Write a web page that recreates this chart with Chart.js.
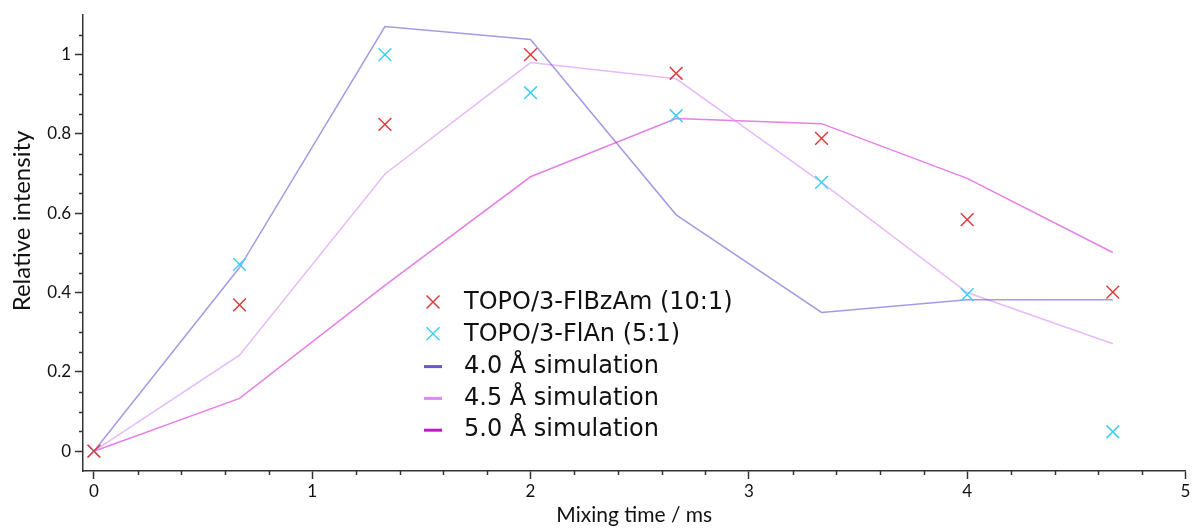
<!DOCTYPE html>
<html>
<head>
<meta charset="utf-8">
<script src="https://cdn.jsdelivr.net/npm/chart.js@4.4.1/dist/chart.umd.min.js"></script>
<style>
  html, body { margin: 0; padding: 0; background: #fff; }
  #wrap { width: 1196px; height: 528px; }
</style>
</head>
<body>
<div id="wrap"><canvas id="chart" width="1196" height="528"></canvas></div>
<script>
// mixing times (ms)
var mixTimes = [0, 0.667, 1.333, 2, 2.667, 3.333, 4, 4.667];

// measured intensities
var flbzam = [0, 0.369, 0.824, 1.0, 0.953, 0.789, 0.584, 0.401];
var flan = [0, 0.471, 1.0, 0.904, 0.846, 0.678, 0.395, 0.049];

// simulations
var sim40 = [0, 0.463, 1.071, 1.038, 0.596, 0.35, 0.382, 0.382];
var sim45 = [0, 0.242, 0.699, 0.98, 0.939, 0.678, 0.40, 0.271];
var sim50 = [0, 0.133, 0.418, 0.692, 0.839, 0.826, 0.688, 0.501];

var xTicks = [0, 1, 2, 3, 4, 5];
var yTicks = [0, 0.2, 0.4, 0.6, 0.8, 1];

function pts(ys) {
    return mixTimes.map(function (x, i) { return { x: x, y: ys[i] }; });
}

var axisColor = "#333";
var tickFont = { family: "Lato, 'Open Sans', sans-serif", size: 17 };

// minor ticks, y title + legend drawn by hand
var extras = {
    id: "extras",
    afterDraw: function (chart) {
        var ctx = chart.ctx;
        var xs = chart.scales.x, ys = chart.scales.y;
        var area = chart.chartArea;
        ctx.save();
        ctx.strokeStyle = axisColor;
        ctx.lineWidth = 1.5;
        ctx.beginPath();
        for (var v = 0.2; v < 5; v += 0.2) {
            if (Math.abs(v - Math.round(v)) < 1e-6) continue;
            var px = Math.round(xs.getPixelForValue(v)) + 0.5;
            ctx.moveTo(px, area.bottom);
            ctx.lineTo(px, area.bottom + 4);
        }
        for (var k = 1; k <= 21; k++) {
            var val = k * 0.05;
            if (k % 4 === 0) continue;
            var py = Math.round(ys.getPixelForValue(val)) + 0.5;
            ctx.moveTo(area.left, py);
            ctx.lineTo(area.left - 4, py);
        }
        ctx.stroke();

        // y title
        ctx.save();
        ctx.translate(22, 221);
        ctx.rotate(-Math.PI / 2);
        ctx.font = "24px Lato, 'Open Sans', sans-serif";
        ctx.fillStyle = "#111";
        ctx.textAlign = "center";
        ctx.textBaseline = "middle";
        ctx.fillText("Relative intensity", 0, 0);
        ctx.restore();

        // legend
        var lx = 433, ly = 302, gap = 31.8;
        ctx.font = "24px 'DejaVu Sans', sans-serif";
        ctx.textBaseline = "middle";
        ctx.textAlign = "left";
        chart.data.datasets.forEach(function (ds, i) {
            var y = ly + i * gap;
            ctx.strokeStyle = ds.legendColor;
            if (ds.showLine === false) {
                ctx.lineWidth = 1.5;
                ctx.beginPath();
                ctx.moveTo(lx - 6.5, y - 6.5); ctx.lineTo(lx + 6.5, y + 6.5);
                ctx.moveTo(lx - 6.5, y + 6.5); ctx.lineTo(lx + 6.5, y - 6.5);
                ctx.stroke();
            } else {
                ctx.lineWidth = 3;
                ctx.beginPath();
                ctx.moveTo(lx - 9, y + 1); ctx.lineTo(lx + 9, y + 1);
                ctx.stroke();
            }
            ctx.fillStyle = "#111";
            ctx.fillText(ds.label, lx + 31, y + 1);
        });
        ctx.restore();
    }
};

new Chart(document.getElementById("chart"), {
    type: "line",
    data: {
        datasets: [
            {
                label: "TOPO/3-FlBzAm (10:1)",
                data: pts(flbzam),
                showLine: false,
                pointStyle: "crossRot",
                pointRadius: 9,
                pointBorderWidth: 1.5,
                borderColor: "#dc3c3c",
                legendColor: "#dc3c3c"
            },
            {
                label: "TOPO/3-FlAn (5:1)",
                data: pts(flan),
                showLine: false,
                pointStyle: "crossRot",
                pointRadius: 9,
                pointBorderWidth: 1.5,
                borderColor: "#3fcff5",
                legendColor: "#3fcff5"
            },
            {
                label: "4.0 Å simulation",
                data: pts(sim40),
                borderColor: "rgba(110, 85, 210, 0.6)",
                legendColor: "#6c52d4",
                borderWidth: 1.5,
                pointRadius: 0
            },
            {
                label: "4.5 Å simulation",
                data: pts(sim45),
                borderColor: "rgba(215, 140, 250, 0.6)",
                legendColor: "#d58cf2",
                borderWidth: 1.5,
                pointRadius: 0
            },
            {
                label: "5.0 Å simulation",
                data: pts(sim50),
                borderColor: "rgba(215, 60, 215, 0.65)",
                legendColor: "#c218c8",
                borderWidth: 1.5,
                pointRadius: 0
            }
        ]
    },
    options: {
        responsive: false,
        animation: false,
        layout: { padding: { top: 15, right: 6, left: 0, bottom: 0 } },
        plugins: {
            legend: { display: false },
            tooltip: { enabled: false }
        },
        scales: {
            x: {
                type: "linear",
                min: -0.05,
                max: 5,
                afterBuildTicks: function (scale) {
                    scale.ticks = xTicks.map(function (v) { return { value: v }; });
                },
                afterFit: function (scale) { scale.height = 57; },
                border: { color: axisColor, width: 1.5 },
                grid: { drawOnChartArea: false, tickLength: 8, tickColor: axisColor, tickWidth: 1.5 },
                ticks: { color: "#111", font: tickFont, padding: 2, maxRotation: 0 },
                title: {
                    display: true,
                    text: "Mixing time / ms",
                    color: "#111",
                    font: { family: "Lato, 'Open Sans', sans-serif", size: 21 },
                    padding: { top: 0, bottom: 0 }
                }
            },
            y: {
                min: -0.05,
                max: 1.1,
                afterBuildTicks: function (scale) {
                    scale.ticks = yTicks.map(function (v) { return { value: v }; });
                },
                afterFit: function (scale) { scale.width = 83; },
                border: { color: axisColor, width: 1.5 },
                grid: { drawOnChartArea: false, tickLength: 8, tickColor: axisColor, tickWidth: 1.5 },
                ticks: {
                    color: "#111",
                    font: tickFont,
                    padding: 4,
                    callback: function (v) { return String(Math.round(v * 10) / 10); }
                },
                title: { display: false }
            }
        }
    },
    plugins: [extras]
});
</script>
</body>
</html>
